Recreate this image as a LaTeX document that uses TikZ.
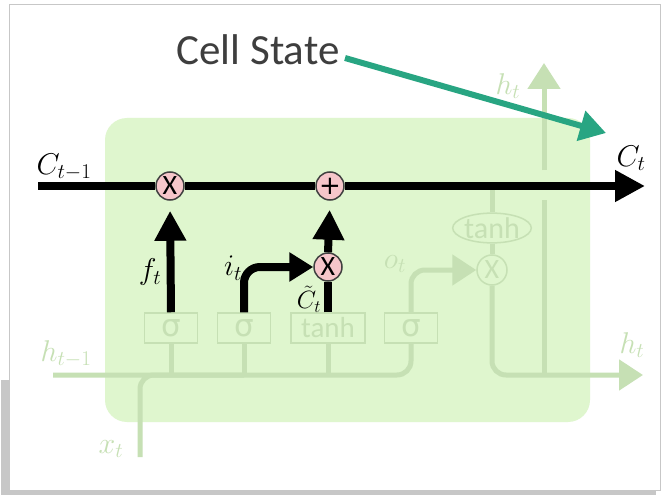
\documentclass[tikz,border=0pt]{standalone}
\usepackage{fix-cm}
\usepackage{fontspec}
\newfontfamily\lab{Carlito}
\newfontfamily\sym{DejaVu Sans}
\usetikzlibrary{arrows.meta,positioning,shapes.geometric}
\definecolor{cellbg}{RGB}{223,246,206}
\definecolor{fade}{RGB}{198,224,180}
\definecolor{oppink}{RGB}{246,198,202}
\definecolor{callout}{RGB}{40,165,130}
\definecolor{capgray}{RGB}{62,62,62}

\begin{document}
\begin{tikzpicture}[x=1pt,y=-1pt,
op/.style={circle,draw=black!75,line width=1.5pt,fill=oppink,minimum size=28pt,inner sep=0pt,font=\lab\fontsize{28}{28}\selectfont},
dimop/.style={circle,draw=fade,line width=1.5pt,minimum size=30pt,inner sep=0pt,text=fade,font=\lab\fontsize{28}{28}\selectfont},
gate/.style={draw=fade,line width=1.5pt,minimum height=30pt,minimum width=53pt,inner sep=0pt,text=fade,font=\sym\fontsize{31}{31}\selectfont},
flow/.style={line width=8pt,-{Triangle[length=30pt,width=30pt]}},
dim/.style={draw=fade,line width=5pt},
lbl/.style={inner sep=0pt,font=\fontsize{30}{30}\selectfont},
dimlbl/.style={lbl,text=fade}]
\useasboundingbox (0,0) rectangle (665,495);
% screenshot frame
\fill[black!22] (1,380) rectangle (656,495);
\draw[black!22,fill=white,line width=1pt] (9,5) rectangle (660,490);
\fill[cellbg,rounded corners=22pt] (105,118) rectangle (590,422);

% gates and faded part
\node[gate] (g1) at (171,328) {σ};
\node[gate] (g2) at (244,328) {σ};
\node[gate,minimum width=74pt,font=\lab\fontsize{29}{29}\selectfont] (g3) at (328,328) {tanh};
\node[gate] (g4) at (411,328) {σ};
\node[ellipse,draw=fade,line width=1.5pt,minimum width=76pt,minimum height=27pt,inner sep=0pt,text=fade,font=\lab\fontsize{30}{30}\selectfont] (dt) at (492,228) {tanh};
\node[dimop] (dx) at (492,270) {X};
\coordinate (hin) at (53,375);
\coordinate (xin) at (140,457);
\coordinate (hout) at (643,375);
\coordinate (cs) at (492,186);
\coordinate (hb) at (544,375);
\coordinate (hlo) at (544,200);
\coordinate (hhi) at (544,170);
\coordinate (htop) at (544,63);
\draw[dim,rounded corners=14pt] (hin) -| (g4.south);
\draw[dim,rounded corners=14pt] (xin) |- (g2.south |- hin);
\foreach \g in {g1,g2,g3} \draw[dim] (\g.south) -- (\g.south |- hin);
\draw[dim,rounded corners=14pt,-{Triangle[length=24pt,width=30pt]}] (g4.north) |- (dx.west);
\draw[dim] (cs) -- (dt.north) (dt.south) -- (dx.north);
\draw[dim,rounded corners=14pt,-{Triangle[length=24pt,width=30pt]}] (dx.south) |- (hout);
\draw[dim] (hb) -- (hlo);
\draw[dim,-{Triangle[length=26pt,width=32pt]}] (hhi) -- (htop);
\node[dimlbl] at (66,354) {$h_{t-1}$};
\node[dimlbl] at (111,449) {$x_t$};
\node[dimlbl] at (632,345) {$h_t$};
\node[dimlbl] at (508,86) {$h_t$};
\node[dimlbl] at (395,264) {$o_t$};

% cell state line
\node[op] (fx) at (170,186) {X};
\node[op,font=\sym\fontsize{26}{26}\selectfont] (add) at (330,186) {+};
\node[op] (ix) at (328,267) {X};
\coordinate (cin) at (38,186);
\coordinate (cout) at (645,186);
\draw[line width=8pt] (cin) -- (fx) (fx) -- (add);
\draw[flow] (add) -- (cout);
\draw[flow,shorten >=10pt] (g1.north) -- (fx.south);
\draw[flow,rounded corners=16pt,-{Triangle[length=24pt,width=28pt]}] (g2.north) |- (ix.west);
\draw[line width=8pt] (g3.north) -- (ix.south);
\draw[flow,shorten >=9pt] (ix.north) -- (add.south);
\node[lbl] at (64,167) {$C_{t-1}$};
\node[lbl] at (631,158) {$C_t$};
\node[lbl] at (150,272) {$f_t$};
\node[lbl] at (233,268) {$i_t$};
\node[lbl,font=\fontsize{25}{25}\selectfont] at (309,299) {$\tilde{C}_t$};

% callout
\node[font=\lab\fontsize{43}{43}\selectfont,text=capgray] (state) at (258,50) {Cell State};
\coordinate (statetip) at (606,133);
\draw[callout,line width=6pt,-{Triangle[length=26pt,width=30pt]}] (state.east) ++(2,8) -- (statetip);
\end{tikzpicture}
\end{document}
